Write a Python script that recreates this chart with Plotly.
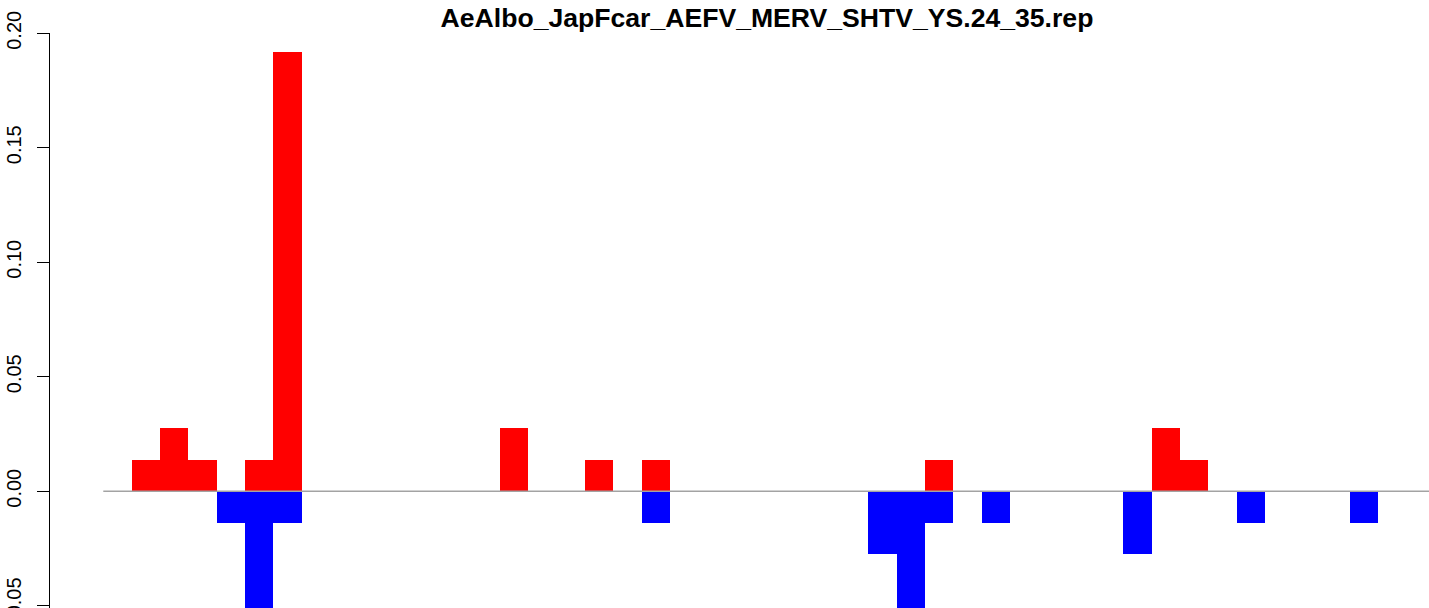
import plotly.graph_objects as go

# one bar per position, 47 positions (first and last few empty)
n_pos = 47
pos_idx = [1, 2, 3, 5, 6, 14, 17, 19, 29, 37, 38]
pos_val = [0.0137, 0.0274, 0.0137, 0.0137, 0.1918, 0.0274, 0.0137, 0.0137, 0.0137, 0.0274, 0.0137]
neg_idx = [4, 5, 6, 19, 27, 28, 29, 31, 36, 40, 44]
neg_val = [-0.0137, -0.0548, -0.0137, -0.0137, -0.0274, -0.0548, -0.0137, -0.0137, -0.0274, -0.0137, -0.0137]
ytick_vals = [-0.05, 0.0, 0.05, 0.10, 0.15, 0.20]
title = 'AeAlbo_JapFcar_AEFV_MERV_SHTV_YS.24_35.rep'

FONT = 'Liberation Sans, Arial, Helvetica, sans-serif'


def create_figure():
    up = [0.0] * n_pos
    down = [0.0] * n_pos
    for i, v in zip(pos_idx, pos_val):
        up[i] = v
    for i, v in zip(neg_idx, neg_val):
        down[i] = v
    xs = list(range(n_pos))

    # zero line across all positions
    zero = go.Scatter(
        x=[xs[0] - 0.5, xs[-1] + 0.5], y=[0, 0],
        mode='lines', line=dict(color='#a3a3a3', width=1.6),
        hoverinfo='skip',
    )
    red = go.Bar(x=xs, y=up, width=1, marker=dict(color='#ff0000', line=dict(width=0)))
    blue = go.Bar(x=xs, y=down, width=1, marker=dict(color='#0000ff', line=dict(width=0)))

    fig = go.Figure(data=[zero, red, blue])
    fig.update_layout(
        width=1429, height=608,
        margin=dict(l=50, r=0, t=33, b=0, autoexpand=False),
        barmode='overlay',
        bargap=0,
        showlegend=False,
        paper_bgcolor='white',
        plot_bgcolor='white',
        font=dict(family=FONT, color='black'),
        title=dict(
            text=title,
            font=dict(family=FONT, size=26.6, weight='bold', color='black'),
            xref='container', x=767 / 1429, xanchor='center',
            yref='container', y=1 - 17.5 / 608, yanchor='middle',
            automargin=False,
        ),
    )
    fig.update_xaxes(
        range=[-2.381, 46.29],
        showgrid=False, zeroline=False, showticklabels=False,
        showline=False, ticks='', automargin=False,
    )
    fig.update_yaxes(
        range=[-0.0510, 0.20013],
        tickvals=ytick_vals,
        tickformat='.2f',
        tickangle=-90,
        ticks='outside', ticklen=12, tickwidth=1.3, tickcolor='black',
        showline=True, linecolor='black', linewidth=1.3,
        showgrid=False, zeroline=False,
        tickfont=dict(family=FONT, size=20, color='black'),
        ticklabelstandoff=8,
        ticklabeloverflow='allow',
        automargin=False,
    )
    return fig


fig = create_figure()
# drop the page's default 8px body margin so the figure sits at the corner
fig.write_html("out.html", config={'displayModeBar': False},
               post_script="document.body.style.margin='0';")
